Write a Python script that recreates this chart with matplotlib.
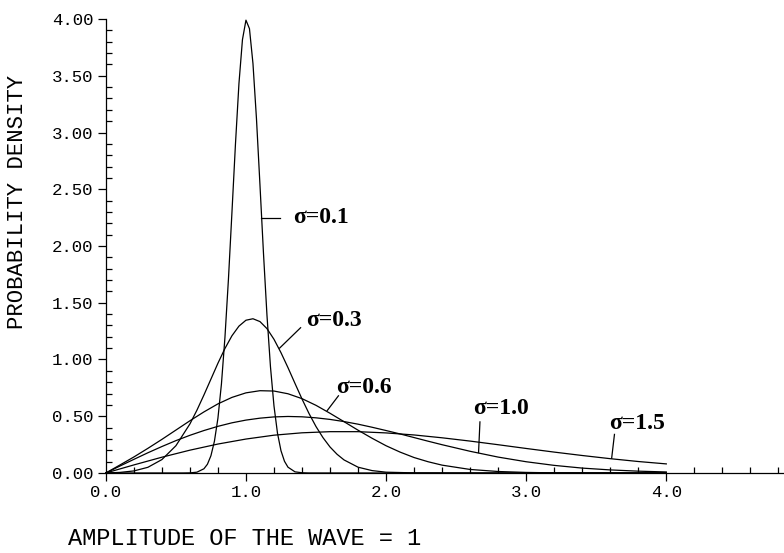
import matplotlib
matplotlib.use("Agg")
import matplotlib.pyplot as plt
from matplotlib.ticker import MultipleLocator, FormatStrFormatter

# values, one curve per sigma
x_s01 = [0.0, 0.55, 0.6, 0.65, 0.7, 0.725, 0.75, 0.775, 0.8, 0.825, 0.85, 0.875, 0.9,
         0.925, 0.95, 0.975, 1.0, 1.025, 1.05, 1.075, 1.1, 1.125, 1.15, 1.175, 1.2,
         1.225, 1.25, 1.275, 1.3, 1.35, 1.4, 1.45, 4.0]
y_s01 = [0.0, 0.0, 0.001, 0.007, 0.037, 0.077, 0.152, 0.280, 0.483, 0.784, 1.194, 1.708,
         2.296, 2.896, 3.432, 3.818, 3.990, 3.915, 3.608, 3.122, 2.538, 1.937, 1.389,
         0.935, 0.591, 0.351, 0.196, 0.103, 0.051, 0.010, 0.002, 0.0, 0.0]

x_s03 = [0.0, 0.1, 0.2, 0.3, 0.4, 0.5, 0.6, 0.65, 0.7, 0.75, 0.8, 0.85, 0.9, 0.95, 1.0,
         1.05, 1.1, 1.15, 1.2, 1.25, 1.3, 1.35, 1.4, 1.45, 1.5, 1.55, 1.6, 1.65, 1.7,
         1.8, 1.9, 2.0, 2.2, 2.5, 4.0]
y_s03 = [0.0, 0.005, 0.018, 0.050, 0.118, 0.240, 0.432, 0.553, 0.687, 0.827, 0.967,
         1.097, 1.209, 1.294, 1.346, 1.359, 1.334, 1.272, 1.178, 1.060, 0.928, 0.789,
         0.652, 0.524, 0.409, 0.311, 0.229, 0.165, 0.115, 0.051, 0.021, 0.007, 0.001,
         0.0, 0.0]

x_s06 = [0.0, 0.1, 0.2, 0.3, 0.4, 0.5, 0.6, 0.7, 0.8, 0.9, 1.0, 1.1, 1.2, 1.3, 1.4,
         1.5, 1.6, 1.7, 1.8, 1.9, 2.0, 2.1, 2.2, 2.3, 2.4, 2.6, 2.8, 3.0, 3.2, 3.5, 4.0]
y_s06 = [0.0, 0.070, 0.141, 0.217, 0.296, 0.378, 0.460, 0.538, 0.609, 0.666, 0.706,
         0.725, 0.722, 0.698, 0.655, 0.596, 0.526, 0.452, 0.377, 0.306, 0.240, 0.184,
         0.136, 0.099, 0.069, 0.031, 0.013, 0.005, 0.001, 0.0, 0.0]

x_s10 = [0.0, 0.1, 0.2, 0.3, 0.4, 0.5, 0.6, 0.7, 0.8, 0.9, 1.0, 1.1, 1.2, 1.3, 1.4,
         1.5, 1.6, 1.7, 1.8, 1.9, 2.0, 2.1, 2.2, 2.3, 2.4, 2.6, 2.8, 3.0, 3.2, 3.4,
         3.6, 3.8, 4.0]
y_s10 = [0.0, 0.061, 0.120, 0.178, 0.233, 0.285, 0.332, 0.374, 0.411, 0.442, 0.466,
         0.483, 0.494, 0.498, 0.495, 0.486, 0.472, 0.453, 0.430, 0.403, 0.374, 0.344,
         0.312, 0.280, 0.249, 0.191, 0.140, 0.099, 0.067, 0.043, 0.027, 0.016, 0.009]

x_s15 = [0.0, 0.2, 0.4, 0.6, 0.8, 1.0, 1.2, 1.4, 1.6, 1.8, 2.0, 2.2, 2.4, 2.6, 2.8,
         3.0, 3.2, 3.4, 3.6, 3.8, 4.0]
y_s15 = [0.0, 0.071, 0.139, 0.201, 0.255, 0.299, 0.333, 0.354, 0.364, 0.364, 0.353,
         0.335, 0.310, 0.281, 0.249, 0.216, 0.184, 0.154, 0.126, 0.101, 0.080]

labels = ["σ=0.1", "σ=0.3", "σ=0.6", "σ=1.0", "σ=1.5"]
# label text position, leader line start (on curve) and end
label_xy = [(1.34, 2.25), (1.43, 1.34), (1.64, 0.75), (2.62, 0.57), (3.59, 0.44)]
leader_from = [(1.11, 2.25), (1.24, 1.10), (1.58, 0.55), (2.66, 0.18), (3.61, 0.13)]
leader_to = [(1.24, 2.25), (1.39, 1.28), (1.66, 0.68), (2.67, 0.45), (3.63, 0.34)]

curves = [(x_s01, y_s01), (x_s03, y_s03), (x_s06, y_s06), (x_s10, y_s10), (x_s15, y_s15)]

mono = "Liberation Mono"

fig = plt.figure(figsize=(7.84, 5.53), dpi=100)
ax = fig.add_axes([0.135, 0.1447, 0.865, 0.8209])

for xs, ys in curves:
    ax.plot(xs, ys, color="black", lw=0.9, clip_on=False)

for lab, (tx, ty), (x0, y0), (x1, y1) in zip(labels, label_xy, leader_from, leader_to):
    ax.plot([x0, x1], [y0, y1], color="black", lw=0.9)
    ax.text(tx, ty, lab, fontsize=17, fontweight="bold", family="Liberation Serif",
            ha="left", va="center")

ax.set_xlim(0, 4.84)
ax.set_ylim(0, 4.0)
ax.spines["top"].set_visible(False)
ax.spines["right"].set_visible(False)
for s in ["left", "bottom"]:
    ax.spines[s].set_linewidth(0.9)

ax.xaxis.set_major_locator(MultipleLocator(1.0))
ax.xaxis.set_minor_locator(MultipleLocator(0.2))
ax.yaxis.set_major_locator(MultipleLocator(0.5))
ax.yaxis.set_minor_locator(MultipleLocator(0.1))
ax.xaxis.set_major_formatter(FormatStrFormatter("%.1f"))
ax.yaxis.set_major_formatter(FormatStrFormatter("%.2f"))
ax.set_xticks([0, 1, 2, 3, 4])

ax.tick_params(which="major", direction="out", length=6, width=0.9, labelsize=12.5, pad=3)
ax.tick_params(which="minor", direction="in", length=4, width=0.9)
for t in ax.get_xticklabels() + ax.get_yticklabels():
    t.set_family(mono)

fig.text(0.022, 0.635, "PROBABILITY DENSITY", rotation=90, family=mono, fontsize=16,
         ha="center", va="center")
fig.text(0.087, 0.026, "AMPLITUDE OF THE WAVE = 1", family=mono, fontsize=17,
         ha="left", va="center")

fig.savefig("out.png", dpi=100)
